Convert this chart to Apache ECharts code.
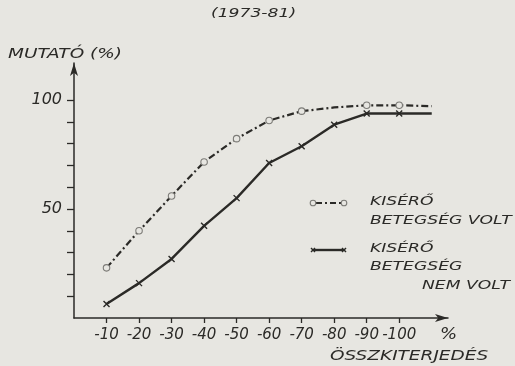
<!DOCTYPE html>
<html><head><meta charset="utf-8">
<script src="https://cdn.jsdelivr.net/npm/echarts@6/dist/echarts.min.js"></script>
<style>html,body{margin:0;padding:0;background:#e7e6e1;}#c{width:515px;height:366px;}</style>
</head><body><div id="c"></div>
<script>
// x positions (extent classes, %); last point is the line's tail beyond -100
const xValues = [10, 20, 30, 40, 50, 60, 70, 80, 90, 100, 110];
const xTickLabels = ['-10', '-20', '-30', '-40', '-50', '-60', '-70', '-80', '-90', '-100'];
const xTickValues = [10, 20, 30, 40, 50, 60, 70, 80, 90, 100];
const yTickValues = [10, 20, 30, 40, 50, 60, 70, 80, 90, 100];
const yLabelValues = [50, 100];
// KISÉRŐ BETEGSÉG VOLT
const withDisease = [23, 40, 56, 71.6, 82.3, 90.6, 94.9, 96.6, 97.6, 97.6, 97.2];
const withDiseaseMarked = [true, true, true, true, true, true, true, false, true, true, false];
// KISÉRŐ BETEGSÉG NEM VOLT
const withoutDisease = [6.4, 16, 27.1, 42.3, 55, 71.1, 78.8, 88.7, 93.8, 93.8, 93.8];
const withoutDiseaseMarked = [true, true, true, true, true, true, true, true, true, true, false];

const INK = '#2b2a27';
const RING = '#7c7b77';
const BG = '#e7e6e1';
const FONT = 'DejaVu Sans';
const gtxt = (text, size) => ({text: text, fill: INK, fontFamily: FONT, fontStyle: 'italic', fontSize: size});
const crossPath = 'path://M0,0L10,10M10,0L0,10';
const SX = 1.32;

const chart = echarts.init(document.getElementById('c'));
chart.setOption({
  backgroundColor: BG,
  animation: false,
  grid: {left: 74, right: 67, top: 63, bottom: 48, containLabel: false},
  xAxis: {
    type: 'value', min: 0, max: 115,
    axisLine: {show: true, symbol: ['none', 'arrow'], symbolSize: [6, 13],
      lineStyle: {color: INK, width: 1.5}},
    axisTick: {show: true, length: 5, inside: false, customValues: xTickValues, lineStyle: {color: INK, width: 1.3}},
    axisLabel: {show: true, margin: 10, customValues: xTickValues,
      formatter: (v) => xTickLabels[xTickValues.indexOf(v)] || '',
      fontFamily: FONT, fontStyle: 'italic', fontSize: 15, color: INK},
    splitLine: {show: false}
  },
  yAxis: {
    type: 'value', min: 0, max: 117,
    axisLine: {show: true, symbol: ['none', 'arrow'], symbolSize: [6, 13],
      lineStyle: {color: INK, width: 1.5}},
    axisTick: {show: true, length: 7, customValues: yTickValues, lineStyle: {color: INK, width: 1.3}},
    axisLabel: {show: true, margin: 12, customValues: yLabelValues,
      fontFamily: FONT, fontStyle: 'italic', fontSize: 16, color: INK},
    splitLine: {show: false}
  },
  series: [
    {
      name: 'KISÉRŐ BETEGSÉG VOLT', type: 'line',
      data: xValues.map((x, i) => ({value: [x, withDisease[i]], symbol: withDiseaseMarked[i] ? 'circle' : 'none'})),
      symbolSize: 6.5,
      itemStyle: {color: BG, borderColor: RING, borderWidth: 1.1, opacity: 1},
      lineStyle: {color: INK, width: 2.2, type: [7, 3, 2, 3]},
      z: 3
    },
    {
      name: 'KISÉRŐ BETEGSÉG NEM VOLT', type: 'line',
      data: xValues.map((x, i) => ({value: [x, withoutDisease[i]], symbol: withoutDiseaseMarked[i] ? crossPath : 'none'})),
      symbolSize: 6,
      itemStyle: {color: INK, borderColor: INK, borderWidth: 1.4},
      lineStyle: {color: INK, width: 2.4, type: 'solid'},
      z: 3
    }
  ],
  graphic: [
    {type: 'text', x: 211, y: 7, scaleX: SX, style: gtxt('(1973-81)', 13)},
    {type: 'text', x: 8, y: 47, scaleX: SX, style: gtxt('MUTATÓ (%)', 14)},
    {type: 'text', x: 440, y: 328, scaleX: 1.2, style: gtxt('%', 15)},
    {type: 'text', x: 330, y: 349, scaleX: SX, style: gtxt('ÖSSZKITERJEDÉS', 14)},
    // legend 1
    {type: 'line', shape: {x1: 316, y1: 203, x2: 341, y2: 203}, style: {stroke: INK, lineWidth: 2.2, lineDash: [6, 3, 2, 3]}},
    {type: 'circle', shape: {cx: 313, cy: 203, r: 2.8}, style: {fill: BG, stroke: RING, lineWidth: 1.1}},
    {type: 'circle', shape: {cx: 344, cy: 203, r: 2.8}, style: {fill: BG, stroke: RING, lineWidth: 1.1}},
    {type: 'text', x: 370, y: 195, scaleX: SX, style: gtxt('KISÉRŐ', 13)},
    {type: 'text', x: 370, y: 214, scaleX: SX, style: gtxt('BETEGSÉG VOLT', 13)},
    // legend 2
    {type: 'line', shape: {x1: 314, y1: 250, x2: 343, y2: 250}, style: {stroke: INK, lineWidth: 2.4}},
    {type: 'line', shape: {x1: 311, y1: 248, x2: 315, y2: 252}, style: {stroke: INK, lineWidth: 1.4}},
    {type: 'line', shape: {x1: 315, y1: 248, x2: 311, y2: 252}, style: {stroke: INK, lineWidth: 1.4}},
    {type: 'line', shape: {x1: 342, y1: 248, x2: 346, y2: 252}, style: {stroke: INK, lineWidth: 1.4}},
    {type: 'line', shape: {x1: 346, y1: 248, x2: 342, y2: 252}, style: {stroke: INK, lineWidth: 1.4}},
    {type: 'text', x: 370, y: 242, scaleX: SX, style: gtxt('KISÉRŐ', 13)},
    {type: 'text', x: 370, y: 260, scaleX: SX, style: gtxt('BETEGSÉG', 13)},
    {type: 'text', x: 422, y: 279, scaleX: SX, style: gtxt('NEM VOLT', 13)}
  ]
});
</script>
</body></html>
